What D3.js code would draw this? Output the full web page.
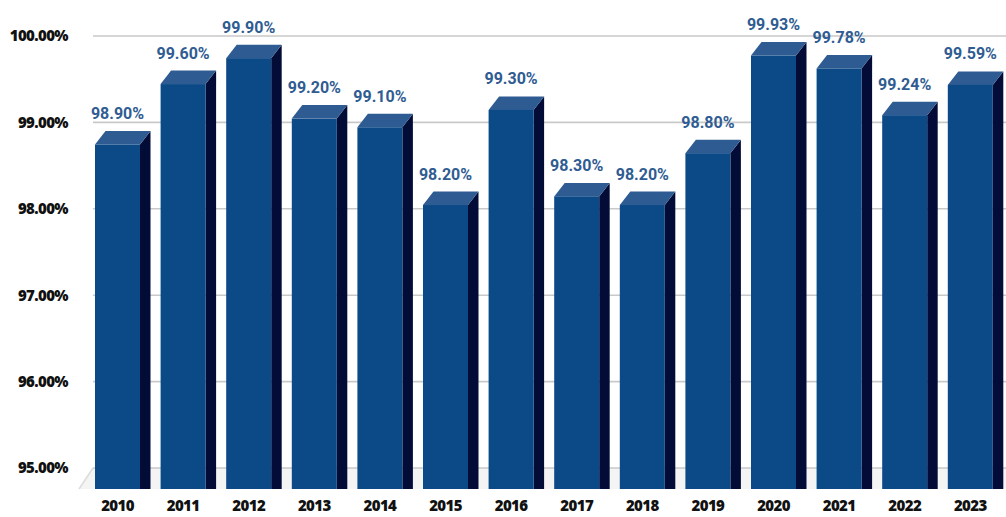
<!DOCTYPE html>
<html>
<head>
<meta charset="utf-8">
<script src="https://cdn.jsdelivr.net/npm/d3@7/dist/d3.min.js"></script>
<style>
  html, body { margin: 0; padding: 0; background: #ffffff; }
  svg { display: block; }
</style>
</head>
<body>
<svg id="chart" width="1006" height="517"></svg>
<script>
// Yearly availability, 2010–2023
const years = ["2010","2011","2012","2013","2014","2015","2016","2017","2018","2019","2020","2021","2022","2023"];
const values = [98.90, 99.60, 99.90, 99.20, 99.10, 98.20, 99.30, 98.30, 98.20, 98.80, 99.93, 99.78, 99.24, 99.59];
const valueLabels = ["98.90%","99.60%","99.90%","99.20%","99.10%","98.20%","99.30%","98.30%","98.20%","98.80%","99.93%","99.78%","99.24%","99.59%"];
const tickValues = [95, 96, 97, 98, 99, 100];
const tickLabels = ["95.00%","96.00%","97.00%","98.00%","99.00%","100.00%"];

const svg = d3.select("#chart");

// Layout of the pseudo-3D plot
const wallLeft = 93, wallRight = 1006;
const floorY = 489;          // front bottom edge of the bars
const depthX = 10.5, depthY = 13.5; // perspective offset of the back faces

// y maps a value to its height on the back wall
const y = d3.scaleLinear().domain([95, 100]).range([468, 36]);

// x band = front face of each bar
const step = 65.6, padInner = 1 - 45 / step;
const x = d3.scaleBand()
  .domain(years)
  .range([95, 95 + step * (years.length - padInner)])
  .paddingInner(padInner)
  .paddingOuter(0)
  .align(0);

// Floor
svg.append("path")
  .attr("d", `M${wallLeft},${y(95)} L${wallRight},${y(95)} L${wallRight},${floorY} L${wallLeft - 14},${floorY} Z`)
  .attr("fill", "#f4f4f4");
svg.append("line")
  .attr("x1", wallLeft).attr("y1", y(95))
  .attr("x2", wallLeft - 14).attr("y2", floorY)
  .attr("stroke", "#dcdcdc").attr("stroke-width", 1.5);

// Gridlines on the back wall
svg.append("g")
  .selectAll("line")
  .data(tickValues)
  .join("line")
  .attr("x1", wallLeft).attr("x2", wallRight)
  .attr("y1", d => y(d)).attr("y2", d => y(d))
  .attr("stroke", "#c9c9c9")
  .attr("stroke-width", 1.6);

// Y axis labels
const yAxis = d3.axisLeft(y)
  .tickValues(tickValues)
  .tickFormat((d, i) => tickLabels[i])
  .tickSize(0)
  .tickPadding(0);
svg.append("g")
  .attr("transform", "translate(68,0)")
  .call(yAxis)
  .call(g => g.select(".domain").remove())
  .call(g => g.selectAll("text")
    .attr("font-family", "'Open Sans', sans-serif")
    .attr("font-weight", 800)
    .attr("font-size", 15)
    .attr("letter-spacing", -0.6)
    .attr("fill", "#111111"));

// Bars
const bars = svg.append("g").selectAll("g")
  .data(years.map((yr, i) => ({ yr, v: values[i], label: valueLabels[i] })))
  .join("g");

const w = x.bandwidth();

// side face
bars.append("path")
  .attr("d", d => {
    const x0 = x(d.yr), top = y(d.v) + depthY;
    return `M${x0 + w},${top} L${x0 + w + depthX},${top - depthY} L${x0 + w + depthX},${floorY} L${x0 + w},${floorY} Z`;
  })
  .attr("fill", "#030c36");

// top face
bars.append("path")
  .attr("d", d => {
    const x0 = x(d.yr), top = y(d.v) + depthY;
    return `M${x0},${top} L${x0 + w},${top} L${x0 + w + depthX},${top - depthY} L${x0 + depthX},${top - depthY} Z`;
  })
  .attr("fill", "#2e5b92");

// front face
bars.append("rect")
  .attr("x", d => x(d.yr))
  .attr("y", d => y(d.v) + depthY)
  .attr("width", w)
  .attr("height", d => floorY - (y(d.v) + depthY))
  .attr("fill", "#0c4987");

// Value labels
bars.append("text")
  .attr("x", d => x(d.yr) + w / 2)
  .attr("y", d => y(d.v) - 12)
  .attr("text-anchor", "middle")
  .attr("font-family", "Roboto, sans-serif")
  .attr("font-weight", 700)
  .attr("font-size", 16)
  .attr("fill", "#2f5c92")
  .text(d => d.label);

// X axis labels
const xAxis = d3.axisBottom(x).tickSize(0).tickPadding(0);
svg.append("g")
  .attr("transform", `translate(0,${floorY + 11})`)
  .call(xAxis)
  .call(g => g.select(".domain").remove())
  .call(g => g.selectAll("text")
    .attr("font-family", "'Open Sans', sans-serif")
    .attr("font-weight", 800)
    .attr("font-size", 15)
    .attr("letter-spacing", -0.6)
    .attr("fill", "#111111"));
</script>
</body>
</html>
